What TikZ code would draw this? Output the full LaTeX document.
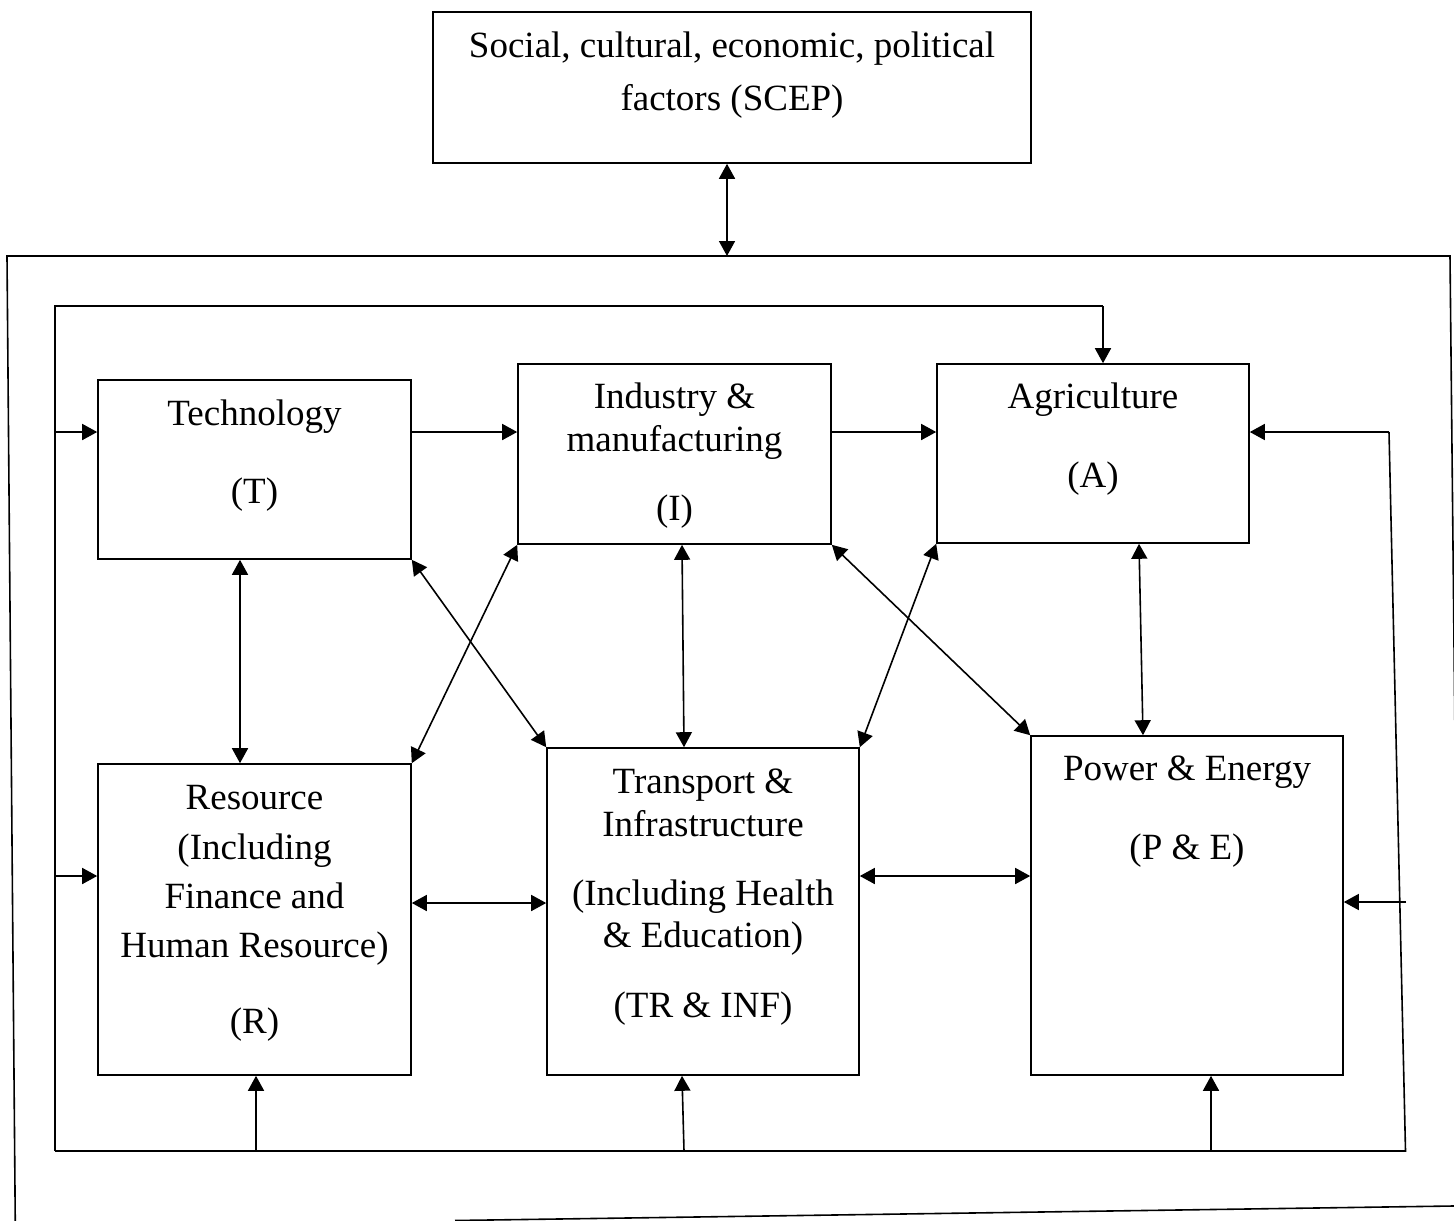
\documentclass[tikz,border=0pt]{standalone}
\usepackage{fontspec}
\setmainfont{Liberation Serif}
\usetikzlibrary{arrows.meta,calc}
\tikzset{
  ln/.style={line width=1.6pt},
  box/.style={draw, line width=1.6pt, inner sep=0pt, rectangle},
  arr/.style={ln, -{Triangle[length=15pt,width=16pt]}},
  darr/.style={ln, {Triangle[length=15pt,width=16pt]}-{Triangle[length=15pt,width=16pt]}},
  txt/.style={anchor=base, inner sep=0pt, font=\fontsize{37}{44}\selectfont}
}
\begin{document}
\begin{tikzpicture}[x=1pt,y=-1pt]
\useasboundingbox (0,0) rectangle (1454,1221);
\clip (0,0) rectangle (1454,1221);
% outer (skewed) frame
\draw[ln] (15.3,1226) -- (7,256) -- (1450,256) -- (1460,1226);
\draw[ln] (455,1220.5) -- (1460,1205.9);
% boxes
\node[box, minimum width=598pt, minimum height=151pt] (S) at (732,87.5) {};
\node[box, minimum width=313pt, minimum height=179pt] (T) at (254.5,469.5) {};
\node[box, minimum width=313pt, minimum height=180pt] (I) at (674.5,454) {};
\node[box, minimum width=312pt, minimum height=179pt] (A) at (1093,453.5) {};
\node[box, minimum width=313pt, minimum height=311pt] (R) at (254.5,919.5) {};
\node[box, minimum width=312pt, minimum height=327pt] (TR) at (703,911.5) {};
\node[box, minimum width=312pt, minimum height=339pt] (P) at (1187,905.5) {};
% texts
\node[txt] (s1) at (732,57) {Social, cultural, economic, political};
\node[txt] (s2) at (732,110) {factors (SCEP)};
\node[txt] (t1) at (254.5,425) {Technology};
\node[txt] (t2) at (254.5,503) {(T)};
\node[txt] (i1) at (674.5,408) {Industry \&};
\node[txt] (i2) at (674.5,451) {manufacturing};
\node[txt] (i3) at (674.5,520) {(I)};
\node[txt] (a1) at (1093,408) {Agriculture};
\node[txt] (a2) at (1093,487) {(A)};
\node[txt] (r1) at (254.5,809) {Resource};
\node[txt] (r2) at (254.5,859) {(Including};
\node[txt] (r3) at (254.5,908) {Finance and};
\node[txt] (r4) at (254.5,957) {Human Resource)};
\node[txt] (r5) at (254.5,1033) {(R)};
\node[txt] (tr1) at (703,793) {Transport \&};
\node[txt] (tr2) at (703,836) {Infrastructure};
\node[txt] (tr3) at (703,905) {(Including Health};
\node[txt] (tr4) at (703,947) {\& Education)};
\node[txt] (tr5) at (703,1017) {(TR \& INF)};
\node[txt] (p1) at (1187,780) {Power \& Energy};
\node[txt] (p2) at (1187,859) {(P \& E)};
% SCEP link
\coordinate (otop) at (727,256);
\draw[darr] (S.south -| otop) -- (otop);
% feedback loop
\coordinate (L1) at (55,306);
\coordinate (L2) at (1103,306);
\coordinate (L3) at (55,1151);
\coordinate (L4) at (1405.5,1151);
\coordinate (L5) at (1389,432);
\draw[ln] (L3) -- (L1) -- (L2);
\draw[arr] (L2) -- (L2 |- A.north);
\draw[ln] (L3) -- (L4) -- (L5);
\draw[arr] (L5) -- (L5 -| A.east);
\coordinate (lT) at (55,432);
\coordinate (lR) at (55,876);
\draw[arr] (lT) -- (lT -| T.west);
\draw[arr] (lR) -- (lR -| R.west);
\coordinate (rP) at (1406,902);
\draw[arr] (rP) -- (rP -| P.east);
\coordinate (bR) at (256,1151);
\coordinate (bTR) at (684,1151);
\coordinate (bP) at (1211,1151);
\draw[arr] (bR) -- (bR |- R.south);
\draw[arr] (bTR) -- ($(TR.south)+(-21,0)$);
\draw[arr] (bP) -- (bP |- P.south);
% horizontal flows
\draw[arr] (T.east |- lT) -- (I.west |- lT);
\draw[arr] (I.east |- lT) -- (A.west |- lT);
% vertical and diagonal links
\coordinate (xTR) at (240,0);
\draw[darr] (T.south -| xTR) -- (R.north -| xTR);
\draw[darr] ($(I.south)+(7.5,0)$) -- ($(TR.north)+(-19,0)$);
\draw[darr] (T.south east) -- (TR.north west);
\draw[darr] (I.south west) -- (R.north east);
\draw[darr] (I.south east) -- (P.north west);
\draw[darr] (A.south west) -- (TR.north east);
\draw[darr] ($(A.south)+(46,0)$) -- ($(P.north)+(-44,0)$);
\coordinate (yRT) at (0,903);
\coordinate (yTP) at (0,876);
\draw[darr] (R.east |- yRT) -- (TR.west |- yRT);
\draw[darr] (TR.east |- yTP) -- (P.west |- yTP);
\end{tikzpicture}
\end{document}
